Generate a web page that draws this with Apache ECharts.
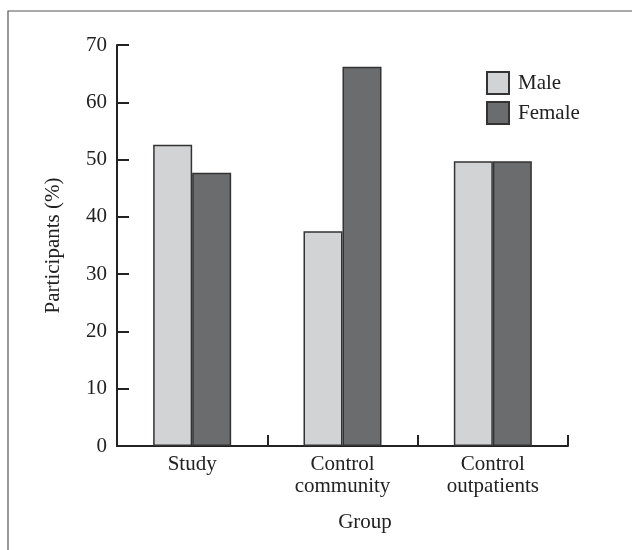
<!DOCTYPE html>
<html><head><meta charset="utf-8">
<script src="https://cdn.jsdelivr.net/npm/echarts@6/dist/echarts.min.js"></script>
<style>html,body{margin:0;padding:0;background:#fff}#c{width:632px;height:550px}</style>
</head><body><div id="c"></div>
<script>
const categories = ['Study', 'Control\ncommunity', 'Control\noutpatients'];
const maleValues = [52.6, 37.5, 49.7];
const femaleValues = [47.7, 66.2, 49.7];
const seriesNames = ['Male', 'Female'];
const yTicks = {min: 0, max: 70, interval: 10};

const font = 'Liberation Serif';
const fs = 21;
const chart = echarts.init(document.getElementById('c'), null, {renderer: 'canvas'});
chart.setOption({
  animation: false,
  backgroundColor: '#fff',
  textStyle: {fontFamily: font, color: '#222'},
  graphic: [{
    type: 'rect', silent: true, z: -1,
    shape: {x: 8, y: 11, width: 700, height: 700},
    style: {fill: 'none', stroke: '#555', lineWidth: 1.2}
  }],
  grid: {left: 117, right: 64, top: 45, bottom: 104, containLabel: false},
  legend: {
    orient: 'vertical', left: 486, top: 71, padding: 0, itemWidth: 22, itemHeight: 22, itemGap: 6,
    icon: 'rect',
    textStyle: {fontFamily: font, fontSize: fs, color: '#222', padding: [0, 0, 0, 4]},
    data: seriesNames
  },
  xAxis: {
    type: 'category', data: categories, boundaryGap: true,
    name: 'Group', nameLocation: 'middle', nameGap: 66,
    nameTextStyle: {fontFamily: font, fontSize: fs, color: '#222', padding: [0, 0, 0, 45]},
    axisLine: {lineStyle: {color: '#222', width: 2}},
    axisTick: {show: true, inside: true, length: 11, interval: 0, lineStyle: {color: '#222', width: 2}},
    axisLabel: {fontFamily: font, fontSize: fs, color: '#222', margin: 7, lineHeight: 22, interval: 0}
  },
  yAxis: {
    type: 'value', min: yTicks.min, max: yTicks.max, interval: yTicks.interval,
    name: 'Participants (%)', nameLocation: 'middle', nameGap: 53,
    nameTextStyle: {fontFamily: font, fontSize: fs, color: '#222'},
    splitLine: {show: false},
    axisLine: {show: true, lineStyle: {color: '#222', width: 2}},
    axisTick: {show: true, inside: true, length: 12, lineStyle: {color: '#222', width: 2}},
    axisLabel: {fontFamily: font, fontSize: fs, color: '#222', margin: 10}
  },
  series: [
    {name: seriesNames[0], type: 'bar', data: maleValues, barWidth: 39, barGap: '0%',
     itemStyle: {color: '#d2d3d5', borderColor: '#333', borderWidth: 1.5}},
    {name: seriesNames[1], type: 'bar', data: femaleValues, barWidth: 39, barGap: '0%',
     itemStyle: {color: '#6b6c6e', borderColor: '#333', borderWidth: 1.5}}
  ]
});
</script></body></html>
